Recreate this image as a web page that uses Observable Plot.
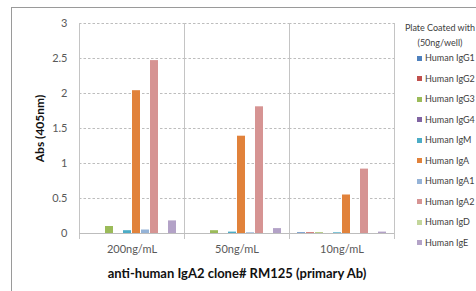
<!DOCTYPE html>
<html>
<head>
<meta charset="utf-8">
<script src="https://cdn.jsdelivr.net/npm/d3@7"></script>
<script src="https://cdn.jsdelivr.net/npm/@observablehq/plot@0.6"></script>
<style>
  html, body { margin: 0; padding: 0; background: #fff; }
  #wrap { position: relative; width: 476px; height: 291px; overflow: hidden; font-family: Lato, "Open Sans", sans-serif; }
  #border { position: absolute; left: 11px; top: 7px; width: 600px; height: 400px; border: 1px solid #9a9a9a; box-sizing: border-box; }
  #chart { position: absolute; left: 0; top: 0; }
  #legend { position: absolute; left: 0; top: 0; width: 476px; height: 291px; pointer-events: none; }
  .ltitle { position: absolute; left: 390px; width: 100px; text-align: center; font-size: 9px; color: #404040; white-space: nowrap; line-height: 12px; }
  .litem { position: absolute; left: 417px; font-size: 9px; color: #404040; white-space: nowrap; line-height: 12px; }
  .litem span.sw { position: absolute; left: 0; top: 3.5px; width: 5px; height: 5px; }
  .litem span.tx { position: absolute; left: 8px; top: 0; }
  g[aria-label="y-axis label"] text { font-weight: bold; fill: #111; font-size: 12px; }
  g[aria-label="fx-axis label"] text { font-weight: bold; fill: #111; font-size: 13px; }
</style>
</head>
<body>
<div id="wrap">
  <div id="border"></div>
  <div id="chart"></div>
  <div id="legend"></div>
</div>
<script>
const categories = ["200ng/mL", "50ng/mL", "10ng/mL"];
const series = ["Human IgG1", "Human IgG2", "Human IgG3", "Human IgG4", "Human IgM",
                "Human IgA", "Human IgA1", "Human IgA2", "Human IgD", "Human IgE"];
const colors = ["#4F81BD", "#C0504D", "#9BBB59", "#8064A2", "#4BACC6",
                "#E1823B", "#95B3D7", "#D69493", "#C3D69B", "#B3A2C7"];
const values200 = [0, 0, 0.10, 0, 0.04, 2.04, 0.05, 2.47, 0, 0.18];
const values50  = [0, 0, 0.04, 0, 0.02, 1.39, 0.01, 1.81, 0, 0.07];
const values10  = [0.01, 0.01, 0.01, 0, 0.01, 0.55, 0, 0.92, 0, 0.02];
const yTicks = [0, 0.5, 1, 1.5, 2, 2.5, 3];
const legendTitle = ["Plate Coated with", "(50ng/well)"];
const xTitle = "anti-human IgA2 clone# RM125 (primary Ab)";
const yTitle = "Abs (405nm)";

const valueSets = [values200, values50, values10];
const data = categories.flatMap((c, i) =>
  series.map((s, j) => ({cat: c, series: s, value: valueSets[i][j]})));

const plot = Plot.plot({
  width: 476,
  height: 291,
  marginLeft: 78,
  marginRight: 81,
  marginTop: 23,
  marginBottom: 58,
  style: {fontFamily: "Lato, 'Open Sans', sans-serif", fontSize: "11px", color: "#595959", background: "transparent"},
  fx: {domain: categories, padding: 0, label: null},
  x: {domain: series, paddingInner: 0.08, paddingOuter: 0.7, axis: null},
  y: {domain: [0, 3]},
  color: {domain: series, range: colors},
  marks: [
    Plot.gridY(yTicks.filter(d => d > 0), {stroke: "#bdbdbd", strokeOpacity: 1, strokeDasharray: "2.5,2"}),
    Plot.frame({anchor: "left", stroke: "#c4c4c4", strokeOpacity: 1, insetBottom: -5}),
    Plot.frame({anchor: "right", stroke: "#c4c4c4", strokeOpacity: 1, insetBottom: -5}),
    Plot.barY(data, {fx: "cat", x: "series", y: "value", fill: "series"}),
    Plot.ruleY([0], {stroke: "#bdbdbd"}),
    Plot.axisY(yTicks, {tickSize: 0, tickPadding: 12, tickFormat: d => String(d),
      label: yTitle, labelArrow: "none", labelAnchor: "center", labelOffset: 44, fontSize: 11}),
    Plot.axisFx({anchor: "bottom", tickSize: 0, tickPadding: 12,
      label: xTitle, labelArrow: "none", labelAnchor: "center", labelOffset: 44, fontSize: 11})
  ]
});
// make sure no arrow glyphs remain in the axis titles
plot.querySelectorAll('g[aria-label="y-axis label"] text, g[aria-label="fx-axis label"] text').forEach(t => {
  t.textContent = t.textContent.replace(/[\u2190-\u2193]\s*|\s*[\u2190-\u2193]/g, "");
});
document.getElementById("chart").appendChild(plot);

// legend
const lg = document.getElementById("legend");
legendTitle.forEach((t, i) => {
  const d = document.createElement("div");
  d.className = "ltitle";
  d.style.top = (22 + i * 15) + "px";
  d.textContent = t;
  lg.appendChild(d);
});
series.forEach((s, i) => {
  const d = document.createElement("div");
  d.className = "litem";
  d.style.top = (52 + i * 20.5) + "px";
  const sw = document.createElement("span");
  sw.className = "sw";
  sw.style.background = colors[i];
  const tx = document.createElement("span");
  tx.className = "tx";
  tx.textContent = s;
  d.appendChild(sw); d.appendChild(tx);
  lg.appendChild(d);
});
</script>
</body>
</html>
